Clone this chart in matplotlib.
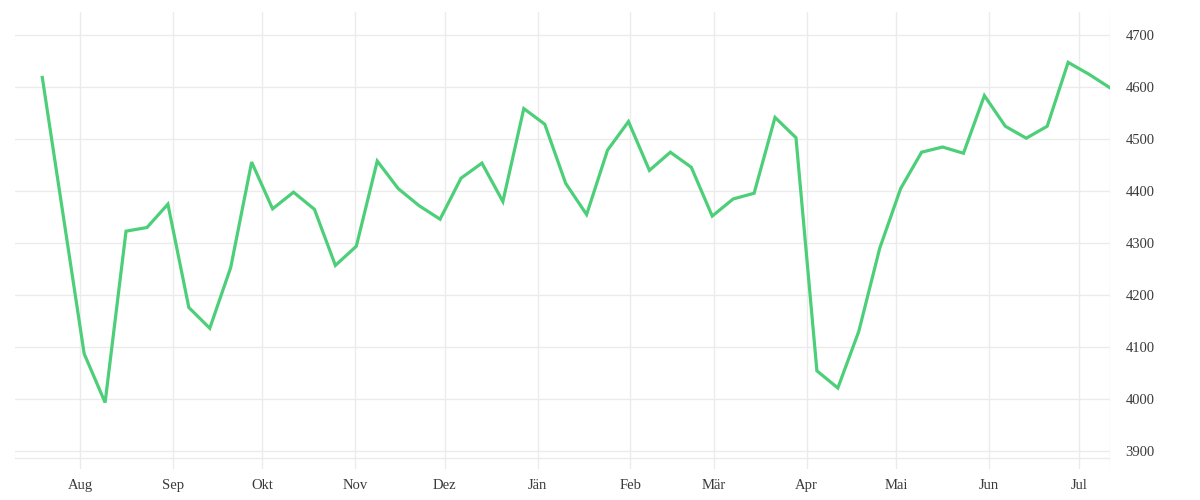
import matplotlib
matplotlib.use("Agg")
import matplotlib.pyplot as plt
import pandas as pd

# weekly values (week of 2021-07-26 missing)
week_start = "2021-07-19 10:00"
week_end = "2022-07-11 10:00"
missing_weeks = ["2021-07-26 10:00"]
values = [
    4619, 4087, 3993, 4323, 4330, 4375, 4176, 4136, 4253, 4456,
    4366, 4398, 4365, 4257, 4294, 4458, 4405, 4372, 4346, 4425,
    4454, 4380, 4559, 4529, 4415, 4355, 4479, 4534, 4440, 4475,
    4446, 4352, 4385, 4396, 4542, 4503, 4054, 4021, 4130, 4290,
    4405, 4475, 4485, 4473, 4584, 4525, 4502, 4525, 4648, 4625,
    4599,
]
month_starts = pd.date_range("2021-08-01", "2022-07-01", freq="MS")
month_labels = ["Aug", "Sep", "Okt", "Nov", "Dez", "Jän",
                "Feb", "Mär", "Apr", "Mai", "Jun", "Jul"]
y_ticks = [3900, 4000, 4100, 4200, 4300, 4400, 4500, 4600, 4700]

dates = pd.date_range(week_start, week_end, freq="7D")
dates = dates[~dates.isin(pd.to_datetime(missing_weeks))]

grid_col = "#ebebeb"
text_col = "#3a3a3a"

fig = plt.figure(figsize=(12, 5), dpi=100)
ax = fig.add_axes([15 / 1200, 31 / 500, 1095 / 1200, 457 / 500])

ax.plot(dates, values, color="#4ccf78", linewidth=2.3, solid_joinstyle="miter", zorder=3)

ax.set_xlim(pd.Timestamp("2021-07-10 07:00"), dates[-1])
ax.set_ylim(3865, 4745)

ax.set_xticks(month_starts)
ax.set_xticklabels(month_labels)
ax.set_yticks(y_ticks)
ax.yaxis.tick_right()

for s in ax.spines.values():
    s.set_visible(False)

ax.grid(True, color=grid_col, linewidth=1.0, zorder=0)
ax.axvline(dates[-1], color=grid_col, linewidth=1.0, zorder=0)
ax.axhline(3886.5, color=grid_col, linewidth=1.0, zorder=0)

ax.tick_params(axis="both", length=0, labelcolor=text_col)
ax.tick_params(axis="x", pad=7)
ax.tick_params(axis="y", pad=11)
for lab in ax.get_xticklabels() + ax.get_yticklabels():
    lab.set_fontfamily("Liberation Serif")
    lab.set_fontsize(10.5)
for lab in ax.get_yticklabels():
    lab.set_horizontalalignment("left")

fig.savefig("out.png", dpi=100, facecolor="white")
